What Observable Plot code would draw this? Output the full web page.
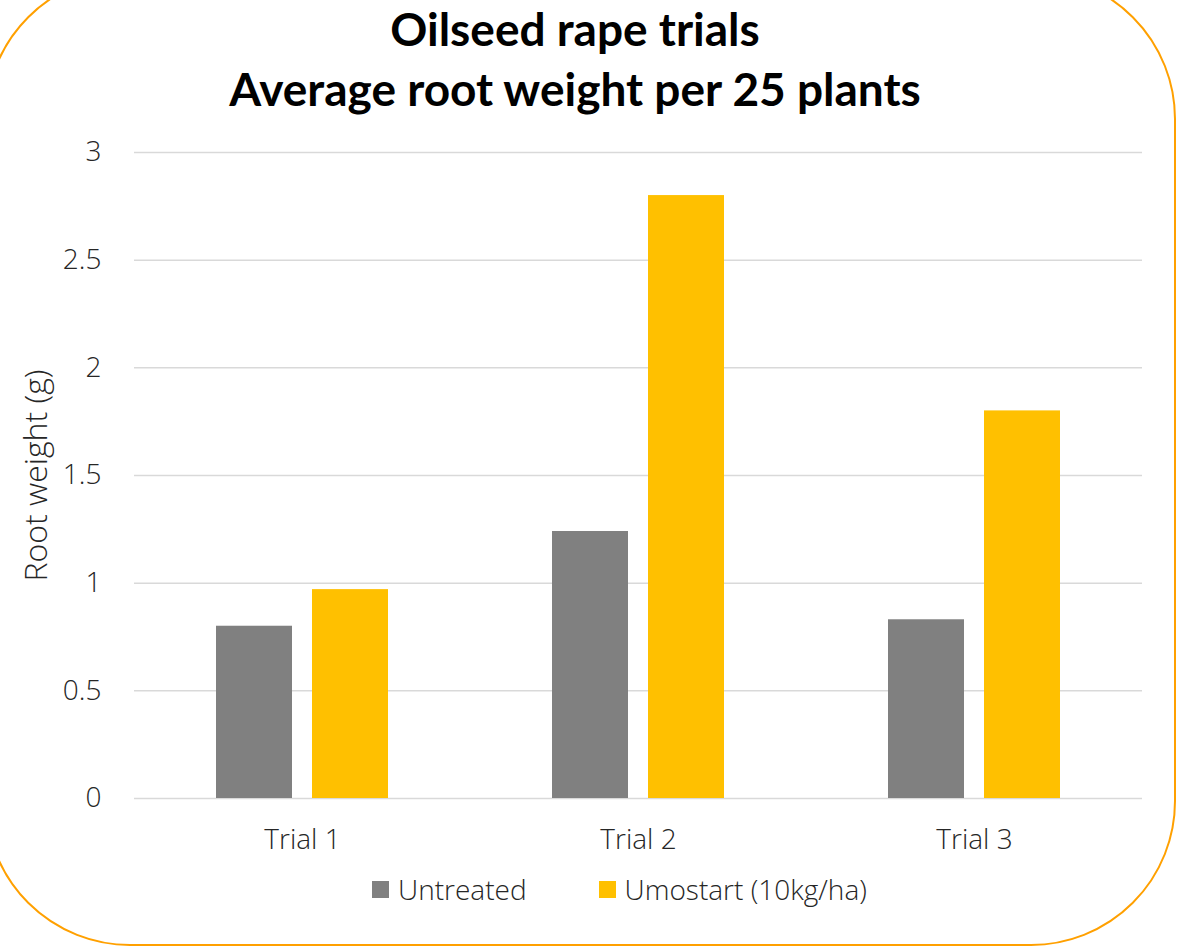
<!DOCTYPE html>
<html><head><meta charset="utf-8">
<script src="https://cdn.jsdelivr.net/npm/d3@7"></script>
<script src="https://cdn.jsdelivr.net/npm/@observablehq/plot@0.6"></script>
<style>
html,body{margin:0;padding:0;background:#fff;}
#wrap{position:relative;width:1179px;height:946px;overflow:hidden;font-family:"Open Sans",sans-serif;}
#border{position:absolute;left:-15px;top:-26px;width:1191px;height:972px;border:2.5px solid #FFA000;border-radius:145px;box-sizing:border-box;pointer-events:none;}
#title{position:absolute;top:-1px;left:0;width:1150px;text-align:center;font-family:Lato,sans-serif;font-weight:bold;font-size:46px;line-height:60px;color:#000;}
#chart{position:absolute;left:0;top:120px;}
#legend{position:absolute;top:870px;left:372px;display:flex;align-items:center;font-family:"Open Sans",sans-serif;font-weight:300;font-size:28px;color:#262626;}
#legend .sw{width:17px;height:17px;display:inline-block;margin-right:9px;}
#legend .item{display:flex;align-items:center;margin-right:72px;}
</style>
</head><body>
<div id="wrap">
  <div id="title">Oilseed rape trials<br>Average root weight per 25 plants</div>
  <div id="chart"></div>
  <div id="legend"></div>
  <div id="border"></div>
</div>
<script>
const trials = ["Trial 1", "Trial 2", "Trial 3"];
const series = ["Untreated", "Umostart (10kg/ha)"];
const untreated = [0.80, 1.24, 0.83];
const umostart = [0.97, 2.80, 1.80];
const yTicks = [0, 0.5, 1, 1.5, 2, 2.5, 3];
const yLabel = "Root weight (g)";
const colors = ["#808080", "#FFC000"];

const data = [];
trials.forEach((t, i) => {
  data.push({trial: t, series: series[0], value: untreated[i]});
  data.push({trial: t, series: series[1], value: umostart[i]});
});

const chart = Plot.plot({
  width: 1179,
  height: 750,
  marginLeft: 133,
  marginRight: 37,
  marginTop: 32,
  marginBottom: 72,
  style: {fontFamily: "'Open Sans', sans-serif", fontSize: "28px", fontWeight: 300, color: "#262626", background: "transparent", overflow: "visible"},
  fx: {domain: trials, padding: 0, label: null},
  x: {domain: series, paddingInner: 0.208, paddingOuter: 0.854, axis: null},
  y: {domain: [0, 3]},
  color: {domain: series, range: colors},
  marks: [
    Plot.ruleY(yTicks, {stroke: "#d9d9d9", strokeWidth: 1.5}),
    Plot.barY(data, {fx: "trial", x: "series", y: "value", fill: "series"}),
    Plot.axisY({ticks: yTicks, tickSize: 0, tickPadding: 33, fontSize: 28, tickFormat: d => String(d), label: null}),
    Plot.text([yLabel], {fx: () => trials[0], frameAnchor: "left", textAnchor: "middle", dx: -98, rotate: -90, text: d => d, fontSize: 32, fill: "#262626"}),
    Plot.axisFx({anchor: "bottom", tickSize: 0, tickPadding: 31, fontSize: 28, label: null})
  ]
});
document.getElementById("chart").appendChild(chart);

const legend = document.getElementById("legend");
series.forEach((s, i) => {
  const item = document.createElement("div");
  item.className = "item";
  const sw = document.createElement("span");
  sw.className = "sw";
  sw.style.background = colors[i];
  const lab = document.createElement("span");
  lab.textContent = s;
  item.appendChild(sw);
  item.appendChild(lab);
  legend.appendChild(item);
});
</script>
</body></html>
